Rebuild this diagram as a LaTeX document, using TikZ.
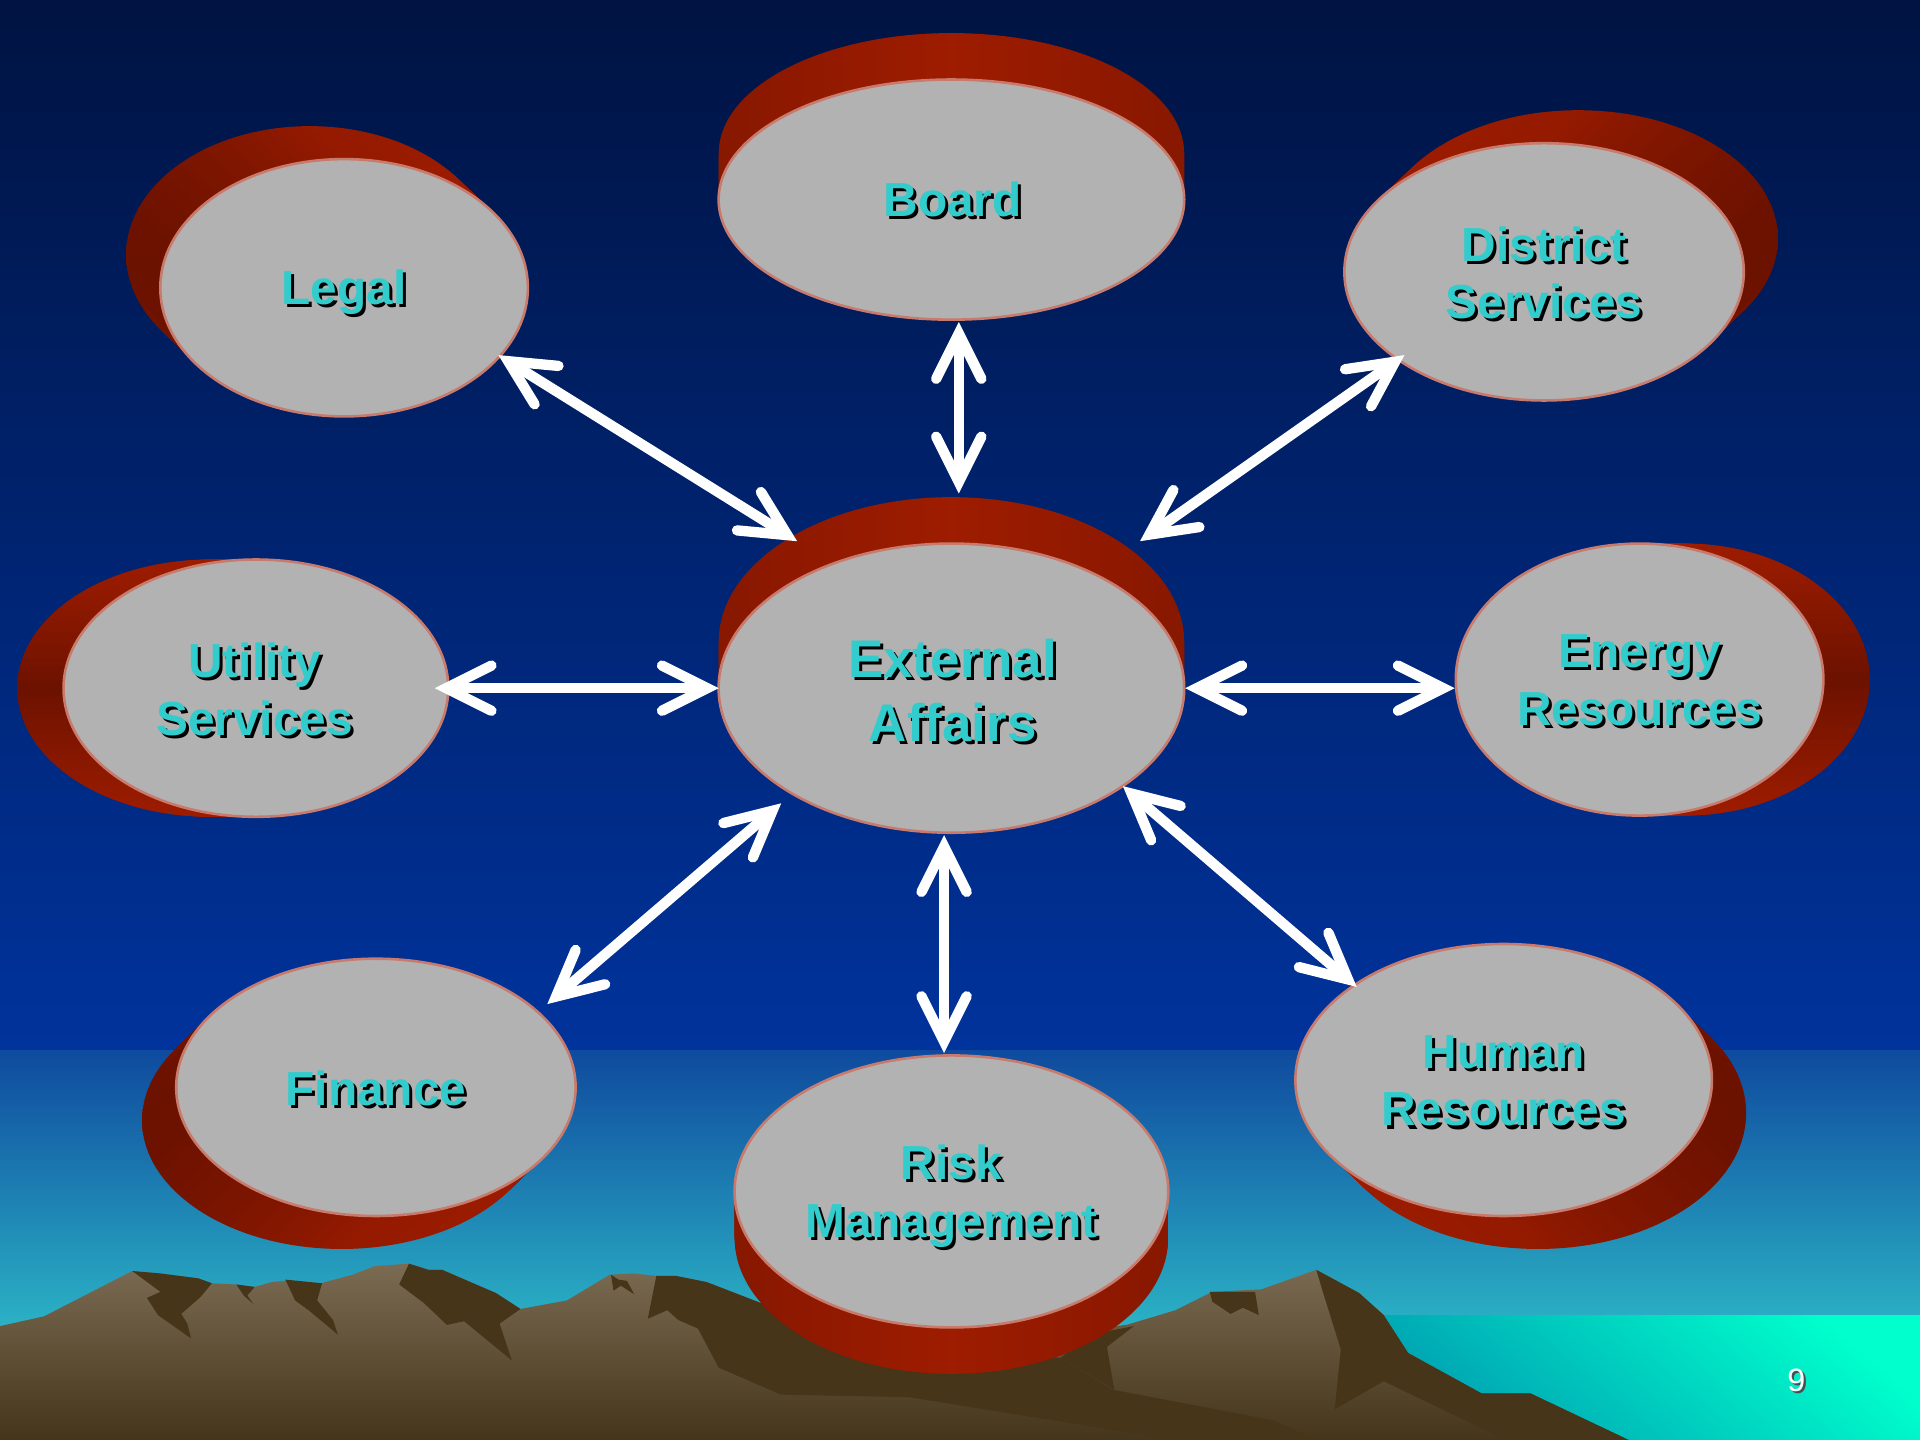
\documentclass[tikz,border=0pt]{standalone}
\usepackage{fontspec}
\setmainfont{Liberation Sans}
\usetikzlibrary{arrows.meta,shapes.geometric,calc}
\definecolor{rr}{HTML}{9E1C00}
\definecolor{rd}{HTML}{6C1200}
\definecolor{capg}{HTML}{B2B2B2}
\definecolor{capb}{HTML}{C87A6C}
\definecolor{txt}{HTML}{33CCCC}
\definecolor{skA}{HTML}{001342}
\definecolor{skB}{HTML}{00236F}
\definecolor{skC}{HTML}{00339C}
\definecolor{skD}{HTML}{0F4A9E}
\definecolor{skE}{HTML}{2DBAC8}
\definecolor{seaT}{HTML}{00FFCC}
\definecolor{seaB}{HTML}{00A0B2}
\definecolor{mtT}{HTML}{7B6B53}
\definecolor{mtB}{HTML}{45351A}
\definecolor{mtD}{HTML}{463519}
\newcommand\shtxt[1]{\leavevmode\rlap{\kern0.7pt\raisebox{-0.7pt}{\textcolor{black}{#1}}}\textcolor{txt}{#1}}
\newcommand\redsweep[7]{%
  \foreach \k in {0,...,24}{%
    \path[#7] ({#1+#5*(1-\k/24)},{#2+#6*(1-\k/24)}) ellipse [x radius=#3*0.01cm, y radius=#4*0.01cm];
  }%
}
\tikzset{
  redV/.style={left color=rr!55!rd, right color=rr!55!rd, middle color=rr},
  redH/.style={top color=rr, bottom color=rr, middle color=rd},
  redL/.style={left color=rd, right color=rr, middle color=rr!80!rd},
  redR/.style={left color=rr, right color=rd, middle color=rr!80!rd},
  capn/.style={ellipse, fill=capg, draw=capb, line width=0.6pt, inner sep=0pt, outer sep=0pt},
  lbl/.style={align=center, font=\bfseries\fontsize{11.1}{13.4}\selectfont, inner sep=0pt},
  lblbig/.style={align=center, font=\bfseries\fontsize{12.3}{14.8}\selectfont, inner sep=0pt},
  barbtip/.tip={Straight Barb[length=10.5pt,width=10.5pt,line cap=round,line join=miter]},
  twoway/.style={draw=white, line width=2.4pt, line cap=round, arrows={barbtip-barbtip}},
  darkrock/.style={fill=mtD}
}
\begin{document}
\begin{tikzpicture}[x=0.01cm, y=-0.01cm]
\useasboundingbox (0,0) rectangle (1568,1176);
% sky
\shade[top color=skA, bottom color=skB] (0,0) rectangle (1568,431);
\shade[top color=skB, bottom color=skC] (0,430) rectangle (1568,859);
\shade[top color=skD, bottom color=skE] (0,858) rectangle (1568,1101);
\fill[skE] (0,1100) rectangle (1568,1176);
% sea
\shade[top color=seaT, bottom color=seaB, shading angle=-40] (1120,1074) rectangle (1568,1176);
% mountains
\shade[top color=mtT, bottom color=mtB] (0,1083) -- (36,1075) -- (73,1056) -- (108,1038) -- (131,1040) -- (162,1044) -- (173,1048) -- (193,1049) -- (208,1051) -- (222,1047) -- (233,1046) -- (262,1048) -- (288,1041) -- (306,1034) -- (334,1032) -- (350,1037) -- (361,1037) -- (405,1056) -- (425,1069) -- (463,1062) -- (498,1041) -- (518,1040) -- (536,1042) -- (552,1042) -- (577,1047) -- (621,1064) -- (700,1080) -- (850,1090) -- (920,1082) -- (960,1070) -- (990,1055) -- (1030,1053) -- (1075,1037) -- (1110,1056) -- (1130,1074) -- (1150,1105) -- (1210,1138) -- (1250,1138) -- (1330,1176) -- (0,1176) -- cycle;
\fill[darkrock] (108,1038) -- (131,1040) -- (162,1044) -- (173,1048) -- (164,1059) -- (148,1073) -- (153,1081) -- (156,1093) -- (129,1074) -- (120,1060) -- (131,1055) -- cycle;
\fill[darkrock] (193,1049) -- (208,1051) -- (202,1058) -- (207,1065) -- (199,1058) -- cycle;
\fill[darkrock] (233,1045) -- (263,1048) -- (259,1062) -- (272,1078) -- (276,1090) -- (252,1070) -- (241,1062) -- cycle;
\fill[darkrock] (334,1032) -- (350,1037) -- (361,1037) -- (405,1056) -- (425,1069) -- (408,1081) -- (418,1111) -- (379,1079) -- (365,1082) -- (346,1064) -- (326,1049) -- cycle;
\fill[darkrock] (499,1041) -- (505,1045) -- (512,1046) -- (518,1057) -- (507,1050) -- (501,1054) -- cycle;
\fill[darkrock] (536,1042) -- (552,1042) -- (577,1047) -- (621,1064) -- (760,1098) -- (866,1109) -- (909,1135) -- (1040,1160) -- (1075,1176) -- (960,1176) -- (742,1141) -- (638,1139) -- (587,1117) -- (570,1085) -- (554,1078) -- (545,1070) -- (529,1077) -- cycle;
\fill[darkrock] (926,1083) -- (904,1100) -- (910,1135) -- (866,1109) -- (890,1090) -- cycle;
\fill[darkrock] (988,1055) -- (1025,1055) -- (1028,1074) -- (1015,1068) -- (1005,1073) -- (990,1063) -- cycle;
\fill[darkrock] (1075,1037) -- (1110,1056) -- (1130,1074) -- (1150,1105) -- (1210,1138) -- (1250,1138) -- (1330,1176) -- (1230,1176) -- (1130,1128) -- (1090,1151) -- (1095,1102) -- (1080,1054) -- cycle;
% red extrusions
\redsweep{777}{163}{190}{98}{0}{-38}{redV}
\redsweep{281}{235}{150}{105}{-28}{-27}{redL}
\redsweep{1261}{222}{163}{105}{28}{-27}{redR}
\redsweep{777}{562}{190}{118}{0}{-38}{redV}
\redsweep{209}{562}{157}{105}{-38}{0}{redH}
\redsweep{1339}{555}{150}{111}{38}{0}{redH}
\redsweep{307}{888}{163}{105}{-28}{27}{redL}
\redsweep{777}{973}{177}{111}{0}{38}{redV}
\redsweep{1228}{882}{170}{111}{28}{27}{redR}
% ellipse faces
\node[capn, minimum width=3.80cm, minimum height=1.96cm] (board) at (777,163) {};
\node[capn, minimum width=3.00cm, minimum height=2.10cm] (legal) at (281,235) {};
\node[capn, minimum width=3.26cm, minimum height=2.10cm] (district) at (1261,222) {};
\node[capn, minimum width=3.80cm, minimum height=2.36cm] (ext) at (777,562) {};
\node[capn, minimum width=3.14cm, minimum height=2.10cm] (utility) at (209,562) {};
\node[capn, minimum width=3.00cm, minimum height=2.22cm] (energy) at (1339,555) {};
\node[capn, minimum width=3.26cm, minimum height=2.10cm] (finance) at (307,888) {};
\node[capn, minimum width=3.54cm, minimum height=2.22cm] (risk) at (777,973) {};
\node[capn, minimum width=3.40cm, minimum height=2.22cm] (human) at (1228,882) {};
% labels
\node[lbl] (board-l) at (778,164) {\shtxt{Board}};
\node[lbl] (legal-l) at (281,240) {\shtxt{Legal}};
\node[lbl] (district-l) at (1261,224) {\shtxt{District}\\\shtxt{Services}};
\node[lblbig] (ext-l) at (778,565) {\shtxt{External}\\\shtxt{Affairs}};
\node[lbl] (utility-l) at (208,564) {\shtxt{Utility}\\\shtxt{Services}};
\node[lbl] (energy-l) at (1339,557) {\shtxt{Energy}\\\shtxt{Resources}};
\node[lbl] (finance-l) at (307,890) {\shtxt{Finance}};
\node[lbl] (risk-l) at (777,978) {\shtxt{Risk}\\\shtxt{Management}};
\node[lbl] (human-l) at (1228,884) {\shtxt{Human}\\\shtxt{Resources}};
% connector end points
\coordinate (legal-e) at (407,290);
\coordinate (ext-nw) at (651,442);
\coordinate (board-e) at (783,263);
\coordinate (ext-n) at (783,403);
\coordinate (district-e) at (1147,290);
\coordinate (ext-ne) at (931,442);
\coordinate (utility-e) at (355,562);
\coordinate (ext-w) at (587,562);
\coordinate (ext-e) at (968,562);
\coordinate (energy-e) at (1188,562);
\coordinate (finance-e) at (447,820);
\coordinate (ext-sw) at (638,656);
\coordinate (ext-s) at (771,682);
\coordinate (risk-e) at (771,860);
\coordinate (ext-se) at (917,642);
\coordinate (human-e) at (1108,806);
% connectors
\draw[twoway] (legal-e) -- (ext-nw);
\draw[twoway] (board-e) -- (ext-n);
\draw[twoway] (district-e) -- (ext-ne);
\draw[twoway] (utility-e) -- (ext-w);
\draw[twoway] (ext-e) -- (energy-e);
\draw[twoway] (finance-e) -- (ext-sw);
\draw[twoway] (ext-s) -- (risk-e);
\draw[twoway] (ext-se) -- (human-e);
% page number
\node[font=\fontsize{7.5}{9}\selectfont, inner sep=0pt] (pnum) at (1467,1128) {\rlap{\kern0.5pt\raisebox{-0.5pt}{\textcolor{black!70}{9}}}\textcolor{white}{9}};
\end{tikzpicture}
\end{document}
